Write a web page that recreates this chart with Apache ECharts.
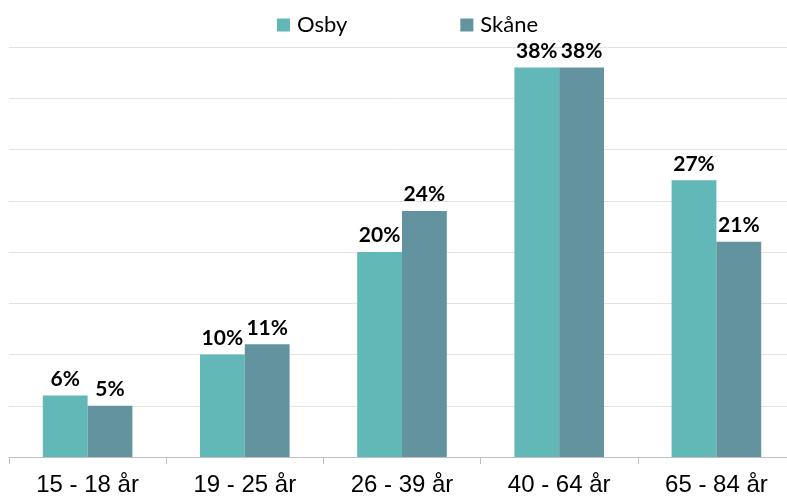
<!DOCTYPE html>
<html><head><meta charset="utf-8">
<script src="https://cdn.jsdelivr.net/npm/echarts@6/dist/echarts.min.js"></script>
<style>html,body{margin:0;padding:0;background:#fff}#c{width:787px;height:500px}</style>
</head><body><div id="c"></div>
<script>
const categories = ['15 - 18 år', '19 - 25 år', '26 - 39 år', '40 - 64 år', '65 - 84 år'];
const osby = [6, 10, 20, 38, 27];
const skane = [5, 11, 24, 38, 21];
const seriesNames = ['Osby', 'Skåne'];

const chart = echarts.init(document.getElementById('c'), null, {renderer: 'canvas'});
const labelStyle = {
  show: true, position: 'top', distance: 6,
  formatter: p => p.value + '%',
  fontFamily: 'Lato', fontWeight: 'bold', fontSize: 21, color: '#000'
};
chart.setOption({
  animation: false,
  legend: {
    top: 14, left: 277, padding: 0, itemWidth: 13, itemHeight: 13, itemGap: 113,
    icon: 'rect',
    textStyle: {fontFamily: 'Lato', fontSize: 22, color: '#000', padding: [0,0,0,2]},
    data: seriesNames
  },
  grid: {left: 9, top: 47, width: 786, height: 410, containLabel: false, outerBoundsMode: 'none'},
  xAxis: {
    type: 'category', data: categories,
    axisLine: {lineStyle: {color: '#BFBFBF', width: 1}},
    axisTick: {show: true, length: 7, lineStyle: {color: '#BFBFBF'}},
    axisLabel: {fontFamily: 'Liberation Sans', fontSize: 24, color: '#000', margin: 16}
  },
  yAxis: {
    type: 'value', min: 0, max: 40, interval: 5,
    axisLabel: {show: false},
    axisLine: {show: false}, axisTick: {show: false},
    splitLine: {lineStyle: {color: '#E3E3E3', width: 1}}
  },
  series: [
    {name: seriesNames[0], type: 'bar', data: osby, barGap: '0%', barCategoryGap: '43%',
     itemStyle: {color: '#62B8B6'}, label: labelStyle},
    {name: seriesNames[1], type: 'bar', data: skane, barGap: '0%', barCategoryGap: '43%',
     itemStyle: {color: '#62939E'}, label: labelStyle}
  ]
});
</script></body></html>
